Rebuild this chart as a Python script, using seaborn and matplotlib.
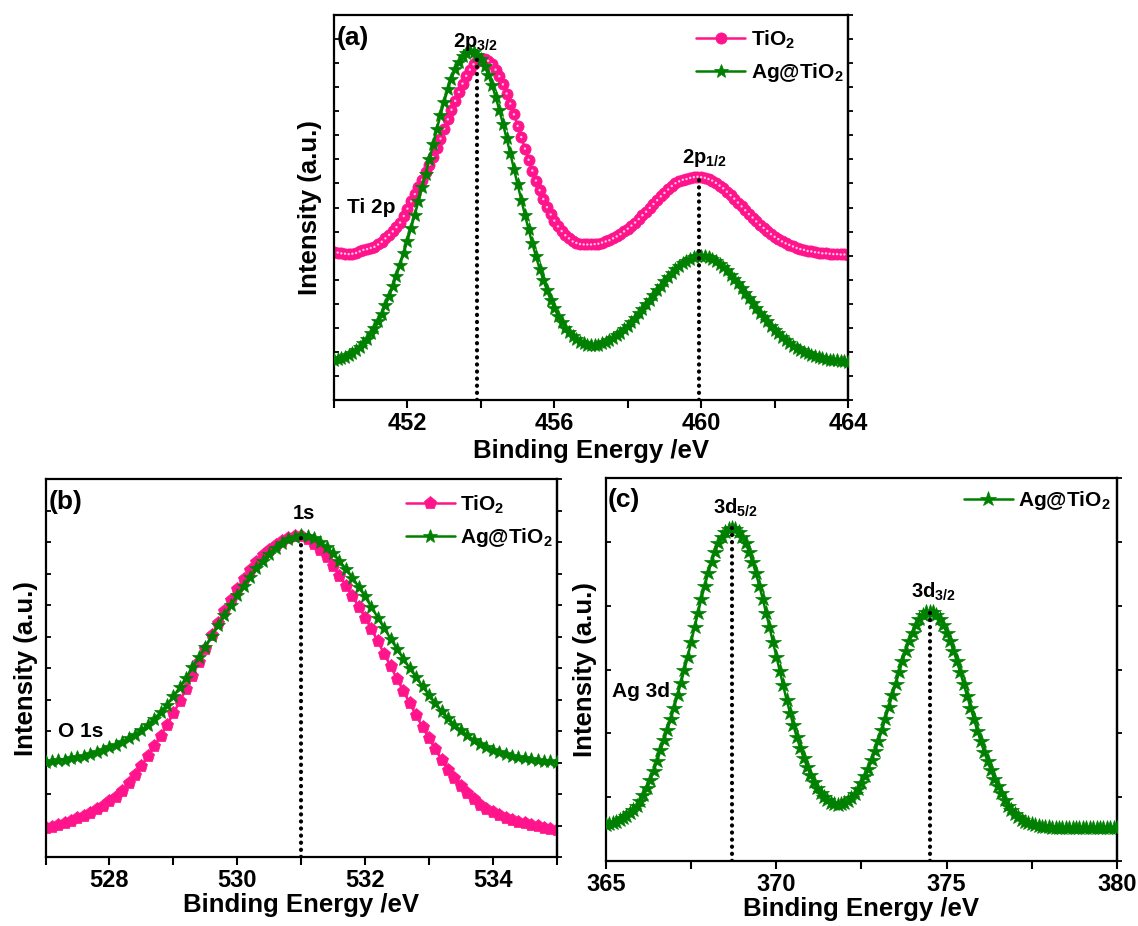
import numpy as np
import pandas as pd
import matplotlib
matplotlib.use("Agg")
import matplotlib.pyplot as plt
import seaborn as sns

# ---------------- data ----------------
# Panel (a): Ti 2p, energy grid 450.0 ... 464.0 eV, step 0.1
ti_start, ti_stop, ti_step = 450.0, 464.0, 0.1
ti_tio2 = [38.5, 38.3, 38.1, 38.0, 37.9, 38.0, 38.2, 38.6, 39.0, 39.2,
           39.5, 39.8, 40.4, 41.1, 42.0, 42.9, 43.8, 44.9, 46.1, 47.8,
           49.7, 51.6, 53.5, 55.4, 57.2, 59.1, 61.1, 63.1, 65.4, 67.9,
           70.5, 72.9, 75.4, 77.7, 80.0, 82.2, 84.2, 85.8, 87.2, 88.1,
           88.5, 88.5, 88.1, 87.2, 85.8, 84.1, 82.0, 79.6, 77.0, 74.2,
           71.2, 68.3, 65.3, 62.4, 59.6, 57.0, 54.5, 52.2, 50.1, 48.2,
           46.6, 45.1, 43.9, 42.8, 42.0, 41.2, 40.8, 40.5, 40.4, 40.4,
           40.4, 40.5, 40.6, 40.9, 41.2, 41.5, 42.0, 42.5, 43.1, 43.8,
           44.5, 45.3, 46.1, 47.0, 48.0, 48.9, 49.9, 50.9, 51.9, 52.9,
           53.8, 54.7, 55.6, 56.3, 56.8, 57.2, 57.4, 57.7, 57.9, 58.0,
           57.9, 57.7, 57.4, 57.0, 56.4, 55.7, 55.0, 54.1, 53.2, 52.3,
           51.3, 50.3, 49.3, 48.3, 47.4, 46.4, 45.5, 44.7, 43.9, 43.1,
           42.4, 41.8, 41.2, 40.7, 40.3, 39.9, 39.5, 39.2, 39.0, 38.7,
           38.6, 38.4, 38.3, 38.1, 38.1, 38.0, 37.9, 37.9, 37.8, 37.8,
           37.7]
ti_ag = [10.5, 10.7, 11.0, 11.3, 11.8, 12.3, 13.1, 13.9, 14.8, 15.9,
         17.3, 18.8, 20.5, 22.4, 24.7, 26.9, 29.5, 32.3, 35.2, 38.2,
         41.4, 44.7, 48.1, 51.6, 55.2, 58.8, 62.5, 66.4, 70.3, 74.0,
         77.5, 80.7, 83.5, 85.9, 87.8, 89.3, 90.2, 90.6, 90.4, 89.7,
         88.5, 86.7, 84.5, 81.8, 78.8, 75.4, 71.8, 68.0, 64.1, 60.0,
         56.0, 52.0, 48.1, 44.3, 40.7, 37.3, 34.1, 31.2, 28.5, 26.0,
         23.9, 21.9, 20.3, 18.8, 17.6, 16.6, 15.8, 15.1, 14.7, 14.4,
         14.3, 14.3, 14.4, 14.7, 15.0, 15.5, 16.1, 16.8, 17.5, 18.4,
         19.3, 20.3, 21.4, 22.5, 23.7, 24.9, 26.1, 27.3, 28.5, 29.7,
         30.9, 32.0, 33.0, 34.0, 34.8, 35.6, 36.2, 36.7, 37.1, 37.3,
         37.4, 37.3, 37.1, 36.7, 36.1, 35.4, 34.6, 33.7, 32.6, 31.5,
         30.3, 29.1, 27.8, 26.5, 25.3, 24.0, 22.7, 21.5, 20.4, 19.3,
         18.3, 17.3, 16.4, 15.6, 14.8, 14.1, 13.5, 13.0, 12.5, 12.1,
         11.7, 11.4, 11.1, 10.9, 10.7, 10.5, 10.4, 10.3, 10.2, 10.1,
         10.0]
ti_peaks = [453.9, 459.95]
ti_peak_labels = ["2p$_{3/2}$", "2p$_{1/2}$"]
ti_xticks = [452, 456, 460, 464]
ti_xminor = [450, 454, 458, 462]

# Panel (b): O 1s, energy grid 527.0 ... 535.0 eV, step 0.1
o_start, o_stop, o_step = 527.0, 535.0, 0.1
o_tio2 = [7.6, 8.0, 8.5, 9.0, 9.6, 10.2, 10.9, 11.7, 12.6, 13.6,
          14.7, 16.0, 17.6, 19.5, 21.7, 24.1, 26.7, 29.3, 32.0, 34.9,
          38.0, 41.2, 44.5, 48.0, 51.6, 55.2, 58.7, 62.0, 65.1, 68.1,
          70.9, 73.6, 76.0, 78.1, 79.9, 81.4, 82.6, 83.6, 84.4, 84.9,
          84.9, 84.3, 83.0, 81.3, 79.3, 77.0, 74.5, 71.8, 69.1, 66.3,
          63.4, 60.3, 57.1, 53.8, 50.5, 47.2, 43.9, 40.7, 37.5, 34.4,
          31.4, 28.5, 25.7, 23.1, 20.8, 18.7, 16.9, 15.3, 13.9, 12.8,
          11.8, 11.0, 10.4, 9.9, 9.4, 9.0, 8.6, 8.2, 7.8, 7.4,
          7.1]
o_ag = [25.2, 25.4, 25.6, 25.8, 26.1, 26.4, 26.8, 27.2, 27.7, 28.3,
        29.0, 29.7, 30.5, 31.4, 32.4, 33.6, 35.0, 36.6, 38.3, 40.3,
        42.5, 44.9, 47.5, 50.2, 52.9, 55.7, 58.5, 61.3, 64.0, 66.7,
        69.3, 71.8, 74.2, 76.4, 78.4, 80.2, 81.8, 83.1, 84.1, 84.8,
        85.3, 85.1, 84.5, 83.5, 82.1, 80.4, 78.4, 76.3, 74.0, 71.6,
        69.0, 66.2, 63.4, 60.6, 57.8, 55.1, 52.5, 50.0, 47.6, 45.2,
        42.9, 40.7, 38.6, 36.7, 35.0, 33.5, 32.2, 31.0, 30.0, 29.1,
        28.4, 27.8, 27.3, 26.8, 26.4, 26.1, 25.9, 25.6, 25.4, 25.3,
        25.2]
o_peaks = [531.0]
o_peak_labels = ["1s"]
o_xticks = [528, 530, 532, 534]
o_xminor = [527, 529, 531, 533, 535]

# Panel (c): Ag 3d, energy grid 365.0 ... 380.0 eV, step 0.1
ag_start, ag_stop, ag_step = 365.0, 380.0, 0.1
ag_ag = [9.4, 9.6, 9.9, 10.2, 10.6, 11.2, 11.8, 12.5, 13.4, 14.4,
         15.7, 17.2, 19.0, 21.1, 23.6, 26.2, 28.9, 31.6, 34.3, 37.1,
         40.1, 43.3, 46.6, 49.9, 53.4, 57.3, 61.1, 64.9, 68.6, 72.0,
         75.3, 78.2, 80.8, 83.0, 84.7, 86.0, 86.7, 87.0, 86.7, 86.0,
         84.7, 83.0, 80.8, 78.2, 75.3, 72.0, 68.6, 64.9, 61.1, 57.3,
         53.4, 49.6, 45.9, 42.2, 38.8, 35.5, 32.4, 29.6, 27.0, 24.7,
         22.6, 20.7, 19.1, 17.8, 16.7, 15.9, 15.2, 14.9, 14.7, 14.8,
         15.1, 15.7, 16.5, 17.5, 18.8, 20.4, 22.1, 24.1, 26.4, 28.8,
         31.4, 34.2, 37.2, 40.2, 43.3, 46.3, 49.3, 52.2, 55.0, 57.5,
         59.7, 61.6, 63.2, 64.3, 65.0, 65.2, 65.0, 64.3, 63.2, 61.6,
         59.7, 57.5, 55.0, 52.2, 49.3, 46.3, 43.2, 40.1, 37.1, 34.1,
         31.3, 28.6, 26.1, 23.7, 21.5, 19.5, 17.7, 16.0, 14.5, 13.3,
         12.3, 11.5, 10.8, 10.3, 9.9, 9.6, 9.3, 9.1, 9.0, 8.9,
         8.8, 8.7, 8.7, 8.6, 8.6, 8.5, 8.5, 8.5, 8.5, 8.5,
         8.5, 8.5, 8.5, 8.5, 8.5, 8.5, 8.5, 8.5, 8.5, 8.5,
         8.5]
ag_peaks = [368.7, 374.5]
ag_peak_labels = ["3d$_{5/2}$", "3d$_{3/2}$"]
ag_xticks = [365, 370, 375, 380]
ag_xminor = [367.5, 372.5, 377.5]

# ---------------- style ----------------
PINK = "#FF148C"
PINK_HI = "#FFC2E0"
GREEN = "#008000"

sns.set_theme(style="ticks")
plt.rcParams.update({
    "font.family": ["Liberation Sans", "DejaVu Sans"],
    "font.weight": "bold",
    "axes.labelweight": "bold",
    "text.color": "black",
    "axes.labelcolor": "black",
    "mathtext.fontset": "custom",
    "mathtext.rm": "Liberation Sans:bold",
    "mathtext.it": "Liberation Sans:bold",
    "mathtext.bf": "Liberation Sans:bold",
    "mathtext.sf": "Liberation Sans:bold",
    "mathtext.default": "bf",
    "axes.linewidth": 1.6,
    "axes.edgecolor": "black",
    "xtick.color": "black",
    "ytick.color": "black",
    "xtick.labelcolor": "black",
})

fig = plt.figure(figsize=(11.38, 9.26), dpi=100)
ax_a = fig.add_axes([0.2935, 0.5680, 0.4517, 0.4158])
ax_b = fig.add_axes([0.0400, 0.0745, 0.4492, 0.4079])
ax_c = fig.add_axes([0.5325, 0.0702, 0.4490, 0.4131])


def energy_grid(start, stop, step):
    n = int(round((stop - start) / step)) + 1
    return np.round(start + step * np.arange(n), 2)


def dotted(ax, xs, curves, x):
    top = max(np.interp(x, xs, c) for c in curves)
    ax.plot([x, x], [0, top], color="black", lw=3.0,
            linestyle=(0, (0.05, 1.65)), dash_capstyle="round", zorder=5)


def style_axes(ax, xlim, major, minor, ystep, ylabpad, xlabpad):
    ax.set_xlim(*xlim)
    ax.set_ylim(0, 100)
    ax.set_xticks(major)
    ax.set_xticks(minor, minor=True)
    ax.set_xticklabels([str(m) for m in major], fontsize=17, fontweight="bold",
                       color="black")
    ax.tick_params(axis="x", which="both", direction="out", length=5.5,
                   width=1.5, pad=3, top=False)
    yt = np.arange(0, 100.001, ystep)
    ax.set_yticks(yt)
    ax.set_yticklabels([])
    ax.tick_params(axis="y", which="both", direction="in", length=3.5,
                   width=1.3, left=True, right=False)
    sec = ax.secondary_yaxis("right")
    sec.set_yticks(yt)
    sec.set_yticklabels([])
    sec.tick_params(axis="y", direction="out", length=3.5, width=1.3)
    sec.spines["right"].set_linewidth(1.6)
    for s in ax.spines.values():
        s.set_linewidth(1.6)
        s.set_visible(True)
    ax.set_xlabel("Binding Energy /eV", fontsize=18.5, fontweight="bold",
                  labelpad=xlabpad, color="black")
    ax.set_ylabel("Intensity (a.u.)", fontsize=18.5, fontweight="bold",
                  labelpad=ylabpad, color="black")


def legend(ax, x0, y0):
    leg = ax.legend(loc="upper left", bbox_to_anchor=(x0, y0), frameon=False,
                    fontsize=15, handlelength=2.35, handletextpad=0.25,
                    labelspacing=0.5, borderpad=0, borderaxespad=0)
    for t in leg.get_texts():
        t.set_fontweight("bold")
        t.set_color("black")


# ---------------- panel (a) ----------------
ea = energy_grid(ti_start, ti_stop, ti_step)
df_a = pd.DataFrame({"energy": ea, "TiO2": ti_tio2, "Ag": ti_ag})
sns.lineplot(data=df_a, x="energy", y="TiO2", ax=ax_a, color=PINK, lw=1.8,
             marker="o", markersize=8.0, markeredgecolor=PINK,
             markeredgewidth=0.6, label="TiO$_2$", zorder=2)
sns.scatterplot(data=df_a, x="energy", y="TiO2", ax=ax_a, color=PINK_HI,
                s=3, edgecolor="none", legend=False, zorder=2.1)
sns.lineplot(data=df_a, x="energy", y="Ag", ax=ax_a, color=GREEN, lw=1.8,
             marker="*", markersize=10, markeredgecolor=GREEN,
             markeredgewidth=0.5, label="Ag@TiO$_2$", zorder=3)
for p in ti_peaks:
    dotted(ax_a, ea, [ti_tio2, ti_ag], p)
style_axes(ax_a, (ti_start, ti_stop), ti_xticks, ti_xminor, 100 / 16, 5, 3)
legend(ax_a, 0.705, 0.965)
ax_a.text(450.08, 94.0, "(a)", fontsize=19, fontweight="bold", va="center")
ax_a.text(453.86, 91.6, ti_peak_labels[0], fontsize=14.5, fontweight="bold",
          ha="center", va="baseline")
ax_a.text(460.08, 61.5, ti_peak_labels[1], fontsize=14.5, fontweight="bold",
          ha="center", va="baseline")
ax_a.text(450.36, 48.5, "Ti 2p", fontsize=15, fontweight="bold", va="baseline")

# ---------------- panel (b) ----------------
eb = energy_grid(o_start, o_stop, o_step)
df_b = pd.DataFrame({"energy": eb, "TiO2": o_tio2, "Ag": o_ag})
sns.lineplot(data=df_b, x="energy", y="TiO2", ax=ax_b, color=PINK, lw=1.8,
             marker="p", markersize=9.5, markeredgecolor=PINK,
             markeredgewidth=0.5, label="TiO$_2$", zorder=2)
sns.lineplot(data=df_b, x="energy", y="Ag", ax=ax_b, color=GREEN, lw=1.8,
             marker="*", markersize=10, markeredgecolor=GREEN,
             markeredgewidth=0.5, label="Ag@TiO$_2$", zorder=3)
for p in o_peaks:
    dotted(ax_b, eb, [o_tio2, o_ag], p)
style_axes(ax_b, (o_start, o_stop), o_xticks, o_xminor, 100 / 12, 2, 1)
legend(ax_b, 0.705, 0.963)
ax_b.text(527.05, 93.9, "(b)", fontsize=19, fontweight="bold", va="center")
ax_b.text(531.05, 89.4, o_peak_labels[0], fontsize=14.5, fontweight="bold",
          ha="center", va="baseline")
ax_b.text(527.2, 31.9, "O 1s", fontsize=15, fontweight="bold", va="baseline")

# ---------------- panel (c) ----------------
ec = energy_grid(ag_start, ag_stop, ag_step)
df_c = pd.DataFrame({"energy": ec, "Ag": ag_ag})
sns.lineplot(data=df_c, x="energy", y="Ag", ax=ax_c, color=GREEN, lw=1.8,
             marker="*", markersize=11.5, markeredgecolor=GREEN,
             markeredgewidth=0.5, label="Ag@TiO$_2$", zorder=3)
for p in ag_peaks:
    dotted(ax_c, ec, [ag_ag], p)
style_axes(ax_c, (ag_start, ag_stop), ag_xticks, ag_xminor, 100 / 6, 3, 1)
legend(ax_c, 0.70, 0.972)
ax_c.text(365.06, 94.4, "(c)", fontsize=19, fontweight="bold", va="center")
ax_c.text(368.81, 90.9, ag_peak_labels[0], fontsize=14.5, fontweight="bold",
          ha="center", va="baseline")
ax_c.text(374.6, 68.7, ag_peak_labels[1], fontsize=14.5, fontweight="bold",
          ha="center", va="baseline")
ax_c.text(365.18, 43.0, "Ag 3d", fontsize=15, fontweight="bold", va="baseline")

fig.savefig("out.png", dpi=100, facecolor="white")
